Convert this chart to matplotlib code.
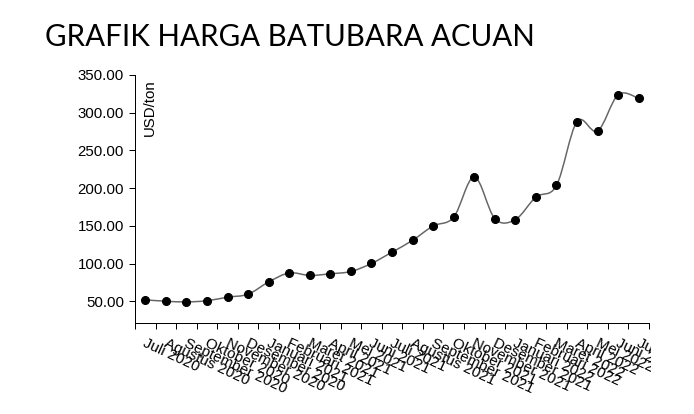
import matplotlib
matplotlib.use("agg")
import matplotlib.pyplot as plt
from matplotlib.path import Path
from matplotlib.patches import PathPatch
from matplotlib.transforms import Bbox, offset_copy

months = [
    "Juli 2020", "Agustus 2020", "September 2020", "Oktober 2020",
    "November 2020", "Desember 2020", "Januari 2021", "Februari 2021",
    "Maret 2021", "April 2021", "Mei 2021", "Juni 2021", "Juli 2021",
    "Agustus 2021", "September 2021", "Oktober 2021", "November 2021",
    "Desember 2021", "Januari 2022", "Februari 2022", "Maret 2022",
    "April 2022", "Mei 2022", "Juni 2022", "Juli 2022",
]
hba = [
    52.16, 50.34, 49.42, 51.00, 55.71, 59.65, 75.84, 87.79, 84.47, 86.68,
    89.74, 100.33, 115.35, 130.99, 150.03, 161.63, 215.01, 159.79, 158.50,
    188.38, 203.69, 288.40, 275.64, 323.91, 319.00,
]
y_ticks = [50, 100, 150, 200, 250, 300, 350]


def cardinal_path(xs, ys):
    # same as d3.curveCardinal with tension 0
    pts = list(zip(xs, ys))
    verts = [pts[0]]
    codes = [Path.MOVETO]
    n = len(pts)
    for i in range(n - 1):
        p0 = pts[max(i - 1, 0)]
        p1 = pts[i]
        p2 = pts[i + 1]
        p3 = pts[min(i + 2, n - 1)]
        c1 = (p1[0] + (p2[0] - p0[0]) / 6, p1[1] + (p2[1] - p0[1]) / 6)
        c2 = (p2[0] - (p3[0] - p1[0]) / 6, p2[1] - (p3[1] - p1[1]) / 6)
        verts += [c1, c2, p2]
        codes += [Path.CURVE4] * 3
    return Path(verts, codes)


DPI = 72
FONT = "Liberation Sans"
fig = plt.figure(figsize=(694 / DPI, 414 / DPI), dpi=DPI)
ax = fig.add_axes([135 / 694, 1 - 323 / 414, 514 / 694, 248 / 414])

x = [i + 0.5 for i in range(len(months))]
ax.add_patch(PathPatch(cardinal_path(x, hba), fill=False, edgecolor="#666666", lw=1.5))
ax.plot(x, hba, "o", color="black", ms=8, zorder=3)

ax.set_xlim(0, len(months))
ax.set_ylim(21.5, 350)

for side in ["top", "right"]:
    ax.spines[side].set_visible(False)
for side in ["left", "bottom"]:
    ax.spines[side].set_color("black")
    ax.spines[side].set_linewidth(1)

ax.set_yticks(y_ticks)
ax.set_yticklabels([f"{v:.2f}" for v in y_ticks], fontsize=15, family=FONT)
ax.tick_params(axis="y", length=6, width=1, color="black", pad=5)

ax.set_xticks(range(len(months) + 1))
ax.set_xticklabels([])
ax.tick_params(axis="x", length=6, width=1, color="black")

# labels run past the svg edge in the original, so cut them there
clip = Bbox.from_extents(0, 0, 651, 414)
lbl_tr = offset_copy(ax.get_xaxis_transform(), fig=fig, x=-3, y=-23, units="dots")
for xi, name in zip(x, months):
    t = ax.text(xi, 0, name, transform=lbl_tr, rotation=-25, rotation_mode="anchor",
                ha="left", va="baseline", fontsize=15, family=FONT)
    t.set_clip_box(clip)
    t.set_clip_on(True)

ax.text(0, 1, "USD/ton", transform=offset_copy(ax.transAxes, fig=fig, x=8, y=-4, units="dots"),
        rotation=90, ha="left", va="top", fontsize=15, family=FONT)

fig.text(45 / 694, 1 - 37 / 414, "GRAFIK HARGA BATUBARA ACUAN", fontsize=29.5,
         family="Lato", ha="left", va="center", color="black")

fig.savefig("out.png", dpi=DPI)
